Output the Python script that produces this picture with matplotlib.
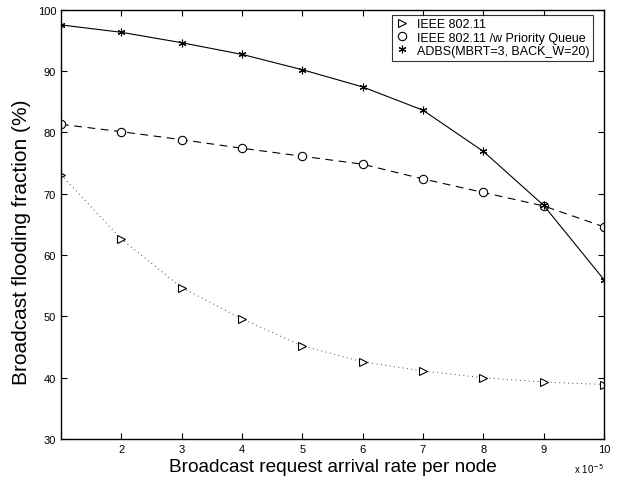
import numpy as np
import matplotlib
matplotlib.use("Agg")
import matplotlib.pyplot as plt
from matplotlib.lines import Line2D

# ----------------------
# Data (arrival rate in units of 1e-5)
# ----------------------
rate = [1, 2, 3, 4, 5, 6, 7, 8, 9, 10]
ieee = [73.1, 62.6, 54.7, 49.6, 45.2, 42.6, 41.1, 40.0, 39.3, 38.9]
ieee_pq = [81.3, 80.1, 78.8, 77.4, 76.1, 74.8, 72.4, 70.2, 68.0, 64.6]
adbs = [97.5, 96.3, 94.6, 92.7, 90.2, 87.4, 83.6, 76.9, 68.1, 56.0]

labels = ["IEEE 802.11", "IEEE 802.11 /w Priority Queue", "ADBS(MBRT=3, BACK_W=20)"]

plt.rcParams['font.family'] = ['Liberation Sans', 'DejaVu Sans']

fig = plt.figure(figsize=(6.38, 4.81), dpi=100)
ax = fig.add_axes([0.0956, 0.085, 0.851, 0.893])

asterisk = (6, 2, 0)

ax.plot(rate, ieee, color='#444444', linestyle=(0, (1, 3.5)), linewidth=0.7)
ax.plot(rate, ieee, color='black', linestyle='none',
        marker='>', markersize=6, markerfacecolor='white', markeredgewidth=0.8)
ax.plot(rate, ieee_pq, color='black', linestyle=(0, (7, 5)), linewidth=0.8,
        marker='o', markersize=6, markerfacecolor='white', markeredgewidth=0.8)
ax.plot(rate, adbs, color='black', linestyle='-', linewidth=0.8,
        marker=asterisk, markersize=5.5, markeredgewidth=0.8)

ax.set_xlim(1, 10)
ax.set_ylim(30, 100)
ax.set_xticks(range(2, 11))
ax.set_yticks(range(30, 101, 10))
ax.tick_params(direction='in', top=True, right=True, labelsize=8, length=4, width=0.8)
for s in ax.spines.values():
    s.set_linewidth(1.0)

ax.set_xlabel("Broadcast request arrival rate per node", fontsize=13.7, labelpad=3)
ax.set_ylabel("Broadcast flooding fraction (%)", fontsize=15, labelpad=5)
ax.yaxis.set_label_coords(-0.056, 0.461)
fig.text(0.946, 0.025, r"x 10$^{-5}$", fontsize=7, ha='right', va='center')

handles = [
    Line2D([], [], color='black', linestyle='none', marker='>', markersize=6,
           markerfacecolor='white', markeredgewidth=0.8),
    Line2D([], [], color='black', linestyle='none', marker='o', markersize=6,
           markerfacecolor='white', markeredgewidth=0.8),
    Line2D([], [], color='black', linestyle='none', marker=asterisk, markersize=5.5,
           markeredgewidth=0.8),
]
leg = ax.legend(handles, labels, loc='upper right', fontsize=9, frameon=True,
                fancybox=False, edgecolor='black', handlelength=1.0,
                handletextpad=0.7, labelspacing=0.1, borderpad=0.3,
                bbox_to_anchor=(0.992, 1.003))
leg.get_frame().set_linewidth(0.8)

fig.savefig("out.png", dpi=100)
